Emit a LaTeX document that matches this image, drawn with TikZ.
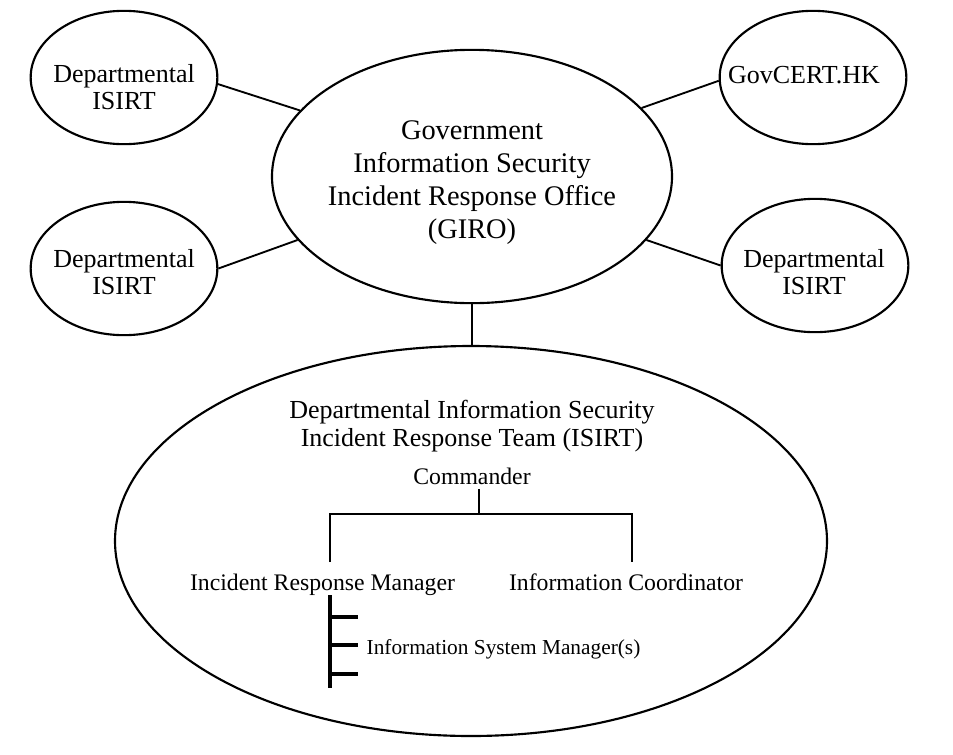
\documentclass[tikz,border=0pt]{standalone}
\usepackage{fontspec}
\setmainfont{Liberation Serif}
\usetikzlibrary{positioning,shapes.geometric}

\begin{document}
\begin{tikzpicture}
[x=0.75pt, y=-0.75pt,
ovalnode/.style={ellipse, draw=black, line width=1.6pt, inner sep=0pt},
smalloval/.style={ovalnode, minimum width=140pt, minimum height=100pt},
ovaltext/.style={align=center, font=\fontsize{19.5}{20.25}\selectfont},
girotext/.style={align=center, font=\fontsize{21.3}{24.75}\selectfont},
teamtext/.style={align=center, font=\fontsize{19.5}{21}\selectfont},
orgtext/.style={anchor=base, font=\fontsize{17.8}{20}\selectfont},
leaftext/.style={anchor=base, font=\fontsize{16}{18}\selectfont},
linkline/.style={line width=1.4pt},
treeline/.style={line width=2pt},
leafline/.style={line width=2.6pt},
]
\useasboundingbox (0,0) rectangle (953,754);

% outer ring of response teams
\node[smalloval] (dlt) at (124,77.5) {};
\node[smalloval] (dlb) at (124,268.5) {};
\node[smalloval] (gov) at (813,77.5) {};
\node[smalloval] (dlr) at (815,265.5) {};
\node[ovalnode, minimum width=300pt, minimum height=190pt] (giro) at (472,176.5) {};
\node[ovalnode, minimum width=534pt, minimum height=292.5pt] (team) at (471,541) {};

\node[ovaltext] (dlt-text) at (124,87) {Departmental\\ISIRT};
\node[ovaltext] (dlb-text) at (124,272) {Departmental\\ISIRT};
\node[ovaltext] (dlr-text) at (814,272) {Departmental\\ISIRT};
\node[ovaltext] (gov-text) at (804,75) {GovCERT.HK};
\node[girotext] (giro-text) at (472,182.5) {Government\\Information Security\\Incident Response Office\\(GIRO)};

\draw[linkline] (dlt.-4.6) -- (giro.159.5);
\draw[linkline] (dlb.0) -- (giro.200.9);
\draw[linkline] (giro.22.5) -- (gov.182);
\draw[linkline] (giro.-20.4) -- (dlr.180);
\draw[line width=0.8pt] (giro.south) -- (giro.south |- team.north);

% departmental team
\node[teamtext] (team-title) at (472,426) {Departmental Information Security\\Incident Response Team (ISIRT)};
\node[orgtext] (cmd) at (472,484) {Commander};
\node[orgtext] (irm) at (322.5,590) {Incident Response Manager};
\node[orgtext] (ic) at (626,590) {Information Coordinator};
\node[leaftext] (ism) at (503.5,654) {Information System Manager(s)};

\coordinate (split) at (479,514);
\coordinate (irmtop) at (330,562);
\coordinate (ictop) at (632,562);
\draw[treeline] (cmd.south -| split) -- (split);
\draw[treeline] (irmtop) |- (split) -| (ictop);

\coordinate (ismtop) at (330,595);
\coordinate (ismbot) at (330,688);
\draw[leafline] (ismtop) -- (ismbot);
\foreach \y in {617,645,674}
  \draw[leafline] (ismtop |- 0,\y) -- ++(28,0);
\end{tikzpicture}
\end{document}
